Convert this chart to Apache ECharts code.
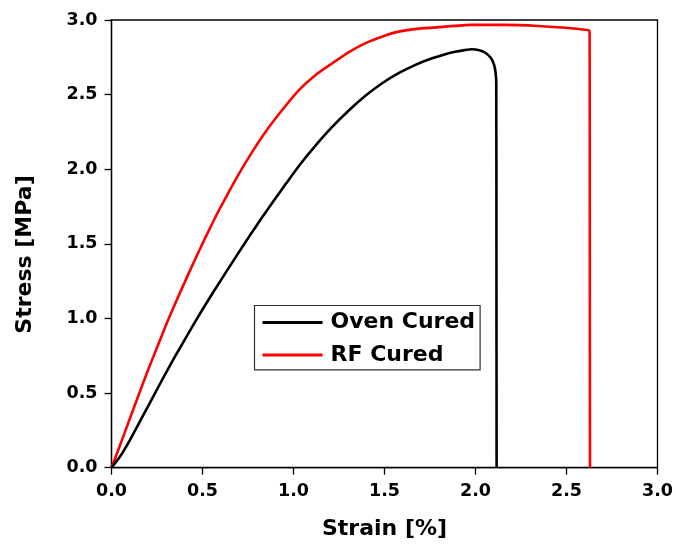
<!DOCTYPE html>
<html>
<head>
<meta charset="utf-8">
<script src="https://cdn.jsdelivr.net/npm/echarts@6/dist/echarts.min.js"></script>
<style>
html,body{margin:0;padding:0;background:#fff;}
#chart{width:676px;height:548px;}
</style>
</head>
<body>
<div id="chart"></div>
<script>
var seriesNames = ['Oven Cured', 'RF Cured'];
var xTicks = [0, 0.5, 1.0, 1.5, 2.0, 2.5, 3.0];
var yTicks = [0, 0.5, 1.0, 1.5, 2.0, 2.5, 3.0];

var ovenStrain = [0, 0.05, 0.101, 0.165, 0.229, 0.293, 0.357, 0.42, 0.484, 0.557, 0.630, 0.694, 0.758, 0.822, 0.898, 0.958, 1.04, 1.122, 1.21, 1.305, 1.395, 1.487, 1.58, 1.670, 1.75, 1.834, 1.888, 1.94, 1.979, 2.02, 2.052, 2.085, 2.102, 2.110, 2.114, 2.115, 2.116];
var ovenStress = [0, 0.08, 0.185, 0.33, 0.476, 0.622, 0.762, 0.895, 1.028, 1.172, 1.312, 1.433, 1.552, 1.668, 1.80, 1.902, 2.038, 2.16, 2.28, 2.395, 2.492, 2.576, 2.645, 2.699, 2.738, 2.77, 2.787, 2.798, 2.804, 2.798, 2.782, 2.745, 2.70, 2.65, 2.58, 1.50, 0];

var rfStrain = [0, 0.05, 0.101, 0.147, 0.193, 0.25, 0.311, 0.39, 0.466, 0.557, 0.621, 0.703, 0.775, 0.849, 0.94, 1.031, 1.12, 1.213, 1.30, 1.396, 1.49, 1.578, 1.69, 1.797, 1.979, 2.162, 2.344, 2.526, 2.60, 2.624, 2.627, 2.628, 2.629];
var rfStress = [0, 0.16, 0.33, 0.48, 0.63, 0.805, 0.990, 1.21, 1.414, 1.645, 1.794, 1.975, 2.12, 2.255, 2.40, 2.532, 2.63, 2.710, 2.782, 2.845, 2.89, 2.922, 2.942, 2.952, 2.967, 2.967, 2.960, 2.945, 2.935, 2.930, 2.90, 1.75, 0];

function pairs(xs, ys) { return xs.map(function (x, i) { return [x, ys[i]]; }); }

var FONT = 'DejaVu Sans';
var chart = echarts.init(document.getElementById('chart'), null, {renderer: 'canvas'});
chart.setOption({
  backgroundColor: '#ffffff',
  animation: false,
  grid: {left: 111.5, right: 16, top: 20, bottom: 80.3, show: true, borderColor: '#000', borderWidth: 1.3, backgroundColor: 'transparent'},
  legend: {
    orient: 'vertical', left: 254.5, top: 305.5,
    backgroundColor: '#fff', borderColor: '#333', borderWidth: 1.2, borderRadius: 0,
    padding: [6, 5, 4, 8], itemGap: 10.4, itemWidth: 60, itemHeight: 3, icon: 'rect',
    textStyle: {fontFamily: FONT, fontWeight: 'bold', fontSize: 22, color: '#000', lineHeight: 22, padding: [0, 0, 0, 3]},
    data: seriesNames
  },
  xAxis: {
    type: 'value', min: 0, max: 3, interval: 0.5,
    name: 'Strain [%]', nameLocation: 'middle', nameGap: 51,
    nameTextStyle: {fontFamily: FONT, fontWeight: 'bold', fontSize: 22, color: '#000'},
    axisLine: {show: true, onZero: false, lineStyle: {color: '#000', width: 1.3}},
    axisTick: {show: true, inside: false, length: 7, lineStyle: {color: '#000', width: 1.3}},
    axisLabel: {margin: 15, fontFamily: FONT, fontWeight: 'bold', fontSize: 17.5, color: '#000',
      formatter: function (v) { return xTicks.indexOf(v) >= 0 ? v.toFixed(1) : ''; }},
    splitLine: {show: false}
  },
  yAxis: {
    type: 'value', min: 0, max: 3, interval: 0.5,
    axisLine: {show: true, onZero: false, lineStyle: {color: '#000', width: 1.3}},
    axisTick: {show: true, inside: false, length: 7, lineStyle: {color: '#000', width: 1.3}},
    axisLabel: {margin: 14, fontFamily: FONT, fontWeight: 'bold', fontSize: 17.5, color: '#000',
      formatter: function (v) { return yTicks.indexOf(v) >= 0 ? v.toFixed(1) : ''; }},
    splitLine: {show: false}
  },
  graphic: [{
    type: 'text', x: 25, y: 254.5, rotation: Math.PI / 2,
    style: {text: 'Stress [MPa]', fontFamily: FONT, fontWeight: 'bold', fontSize: 22, fill: '#000', align: 'center', verticalAlign: 'middle'}
  }],
  series: [
    {name: seriesNames[0], type: 'line', data: pairs(ovenStrain, ovenStress), symbol: 'none', smooth: 0.2,
      lineStyle: {color: '#000', width: 2.6}, itemStyle: {color: '#000'}, z: 3},
    {name: seriesNames[1], type: 'line', data: pairs(rfStrain, rfStress), symbol: 'none', smooth: 0.2,
      lineStyle: {color: '#ff0000', width: 2.6}, itemStyle: {color: '#ff0000'}, z: 2}
  ]
});
</script>
</body>
</html>
